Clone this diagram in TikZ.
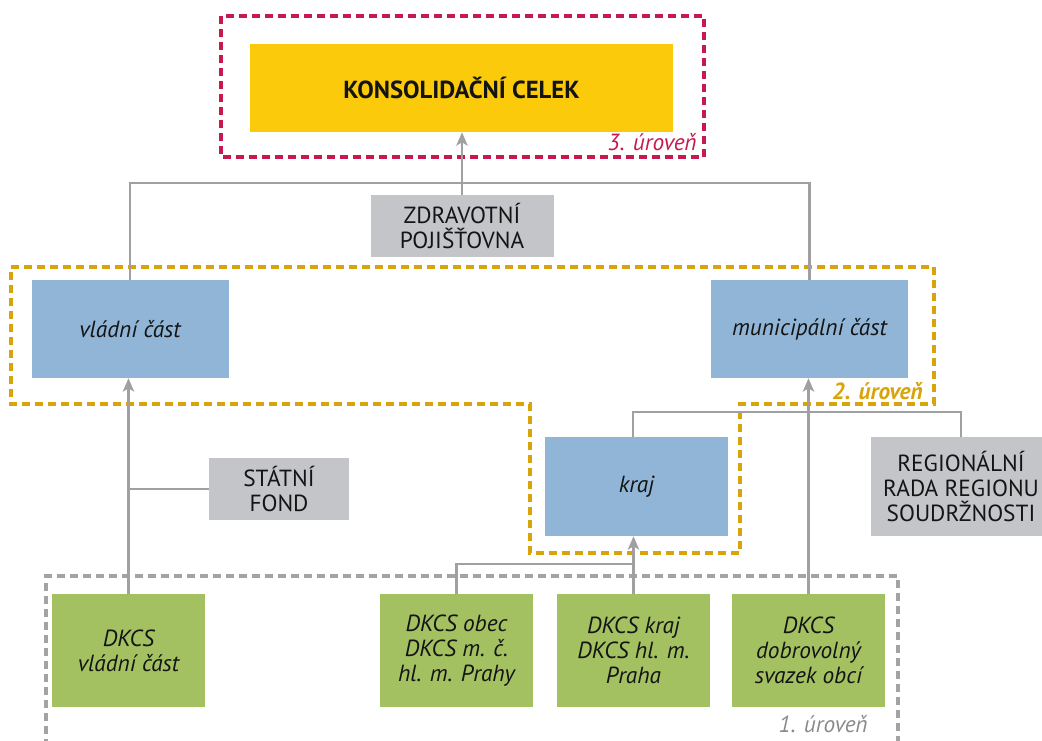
\documentclass[tikz,border=0pt]{standalone}
\usepackage{fontspec}
\setmainfont{PT Sans}
\usetikzlibrary{arrows.meta}
\definecolor{crim}{HTML}{C8194F}
\definecolor{gold}{HTML}{D9A40A}
\definecolor{ylw}{HTML}{FBCB0B}
\definecolor{blu}{HTML}{90B5D6}
\definecolor{gry}{HTML}{C4C5C9}
\definecolor{grn}{HTML}{A4C162}
\definecolor{conn}{HTML}{A0A0A3}
\definecolor{dgry}{HTML}{A3A3A3}
\definecolor{ink}{HTML}{141414}
\definecolor{lbl}{HTML}{8A8A8A}
\tikzset{
  box/.style={inner sep=0pt, align=center, text=ink, font=\fontsize{17.5}{18.75}\selectfont},
  yelbox/.style={box, fill=ylw, minimum width=317.25pt, minimum height=66pt, font=\fontsize{18.5}{18.75}\selectfont\bfseries},
  graybox/.style={box, fill=gry},
  bluebox/.style={box, fill=blu, minimum width=147.75pt, minimum height=73.5pt, font=\fontsize{17.5}{18.75}\selectfont\itshape},
  greenbox/.style={box, fill=grn, minimum width=114.75pt, minimum height=84.75pt, font=\fontsize{17.5}{18.75}\selectfont\itshape},
  link/.style={draw=conn, line width=2.1pt},
  arrowlink/.style={link, -{Stealth[length=10pt,width=8.5pt,inset=2.5pt]}},
  level/.style={line width=2.3pt, dash pattern=on 6pt off 3.75pt},
  lvltext/.style={anchor=base east, inner sep=0pt, font=\fontsize{17.5}{18}\selectfont\itshape}
}
\begin{document}
\begin{tikzpicture}[x=0.75pt,y=-0.75pt]
\useasboundingbox (0,0) rectangle (1042,740);
% level frames
\draw[level, draw=crim] (221,16) rectangle (704,157);
\draw[level, draw=gold] (11,267) -- (934,267) -- (934,404) -- (740,404) -- (740,553) -- (530,553) -- (530,404) -- (11,404) -- cycle;
\draw[level, draw=dgry] (46,760) -- (46,576) -- (898,576) -- (898,760);
\node[lvltext, text=crim] (l3) at (697,150) {3. úroveň};
\node[lvltext, text=gold, font=\fontsize{17.5}{18}\selectfont\bfseries\itshape] (l2) at (923,399) {2. úroveň};
\node[lvltext, text=lbl] (l1) at (868,732) {1. úroveň};
% nodes
\node[yelbox] (ks) at (461.5,88) {KONSOLIDAČNÍ CELEK};
\node[graybox, minimum width=137.25pt, minimum height=46.5pt] (zp) at (462,226) {ZDRAVOTNÍ\\POJIŠŤOVNA};
\node[bluebox] (vc) at (130,329) {vládní část};
\node[bluebox] (mc) at (809.5,329) {municipální část};
\node[bluebox, minimum width=137.25pt, minimum height=74.25pt] (kr) at (636.5,486.5) {kraj};
\node[graybox, minimum width=135pt, minimum height=74.25pt] (rr) at (961,486.5) {REGIONÁLNÍ\\RADA REGIONU\\SOUDRŽNOSTI};
\node[graybox, minimum width=105pt, minimum height=46.5pt] (sf) at (279,489) {STÁTNÍ\\FOND};
\node[greenbox] (dv) at (128.5,650.5) {DKCS\\vládní část};
\node[greenbox] (do) at (456.5,650.5) {DKCS obec\\DKCS m. č.\\hl. m. Prahy};
\node[greenbox] (dk) at (633.5,650.5) {DKCS kraj\\DKCS hl. m.\\Praha};
\node[greenbox] (dd) at (808.5,650.5) {DKCS\\dobrovolný\\svazek obcí};
% connectors
\coordinate (hub) at (462,183);
\coordinate (kjoin) at (633,412);
\coordinate (djoin) at (633.5,564);
\draw[link] (vc.north) |- (hub) -| (mc.north);
\draw[arrowlink] (zp.north) -- (zp.north |- ks.south);
\draw[arrowlink] (dv.north) -- (dv.north |- vc.south);
\draw[link] (sf.west) -- (sf.west -| dv.north);
\draw[link] (kjoin |- kr.north) -- (kjoin) -| (rr.north);
\draw[arrowlink] (dd.north) -- (dd.north |- mc.south);
\draw[link] (do.north) |- (djoin);
\draw[arrowlink] (dk.north) -- (dk.north |- kr.south);
\end{tikzpicture}
\end{document}
